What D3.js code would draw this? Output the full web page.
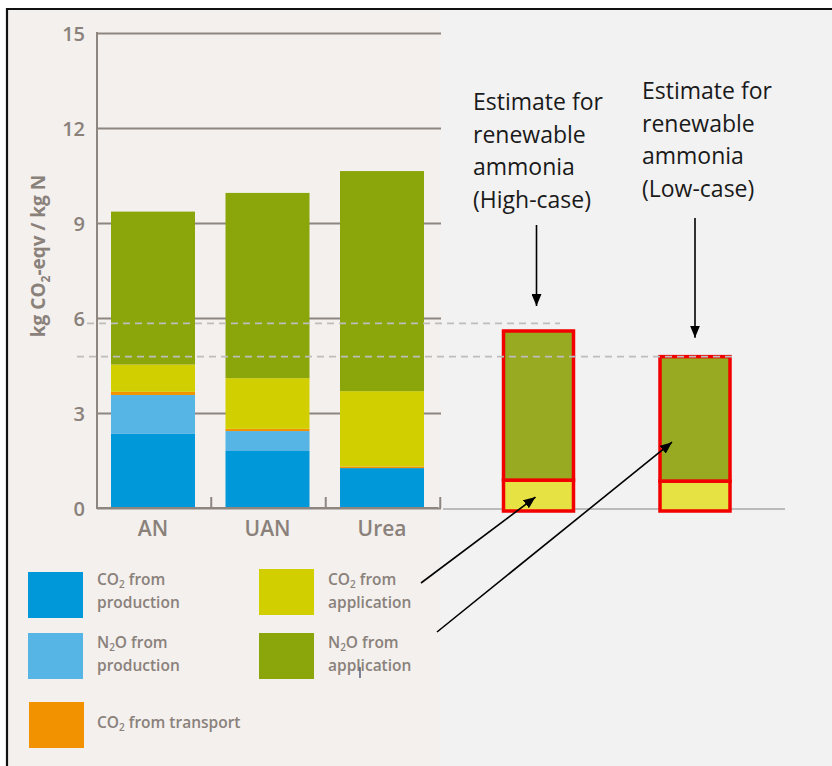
<!DOCTYPE html>
<html>
<head>
<meta charset="utf-8">
<script src="https://cdn.jsdelivr.net/npm/d3@7"></script>
<style>
  html, body { margin: 0; padding: 0; background: #ffffff; }
  svg { display: block; }
</style>
</head>
<body>
<svg id="chart" width="832" height="766"></svg>
<script>
// Fertiliser footprint per product (kg CO2-eqv / kg N), stacked by source
const categories = ["AN", "UAN", "Urea"];
const co2Production = [2.34, 1.80, 1.26];
const n2oProduction = [1.23, 0.63, 0.00];
const co2Transport = [0.10, 0.07, 0.05];
const co2Application = [0.86, 1.60, 2.38];
const n2oApplication = [4.83, 5.85, 6.95];

// Renewable ammonia estimates
const estimateCases = ["High-case", "Low-case"];
const estimateCo2Application = [0.88, 0.85];
const estimateN2oApplication = [4.71, 3.93];
const referenceLevels = [5.83, 4.78];

const yTicks = [0, 3, 6, 9, 12, 15];

const seriesKeys = ["co2Production", "n2oProduction", "co2Transport", "co2Application", "n2oApplication"];
const seriesColors = {
  co2Production: "#0098d8",
  n2oProduction: "#56b5e4",
  co2Transport: "#f39200",
  co2Application: "#d1cf00",
  n2oApplication: "#8ba60b"
};

const svg = d3.select("#chart");
const ink = "#8a817b";
const axisInk = "#8d8580";
const panelFont = "Open Sans";

// backgrounds and frame
svg.append("rect").attr("x", 8).attr("y", 10).attr("width", 824).attr("height", 756).attr("fill", "#f2f2f2");
svg.append("rect").attr("x", 8).attr("y", 10).attr("width", 433).attr("height", 756).attr("fill", "#f3f0ed");
svg.append("path").attr("d", "M7,766 V9 H832").attr("fill", "none").attr("stroke", "#111").attr("stroke-width", 2.2);

// scales
const y = d3.scaleLinear().domain([0, 15]).range([508, 33]);
const x = d3.scaleBand().domain(categories).range([97, 438]).paddingInner(0.2664).paddingOuter(0.1223);
const xe = d3.scalePoint().domain(estimateCases).range([538.5, 695]);
const estWidth = 70;

// y axis with gridlines
const yAxis = d3.axisLeft(y).tickValues(yTicks).tickSize(-344).tickPadding(12).tickFormat(d3.format("d"));
const gy = svg.append("g").attr("transform", "translate(97,0)").call(yAxis);
gy.select(".domain").remove();
gy.selectAll(".tick line").attr("stroke", axisInk).attr("stroke-width", 2);
gy.selectAll(".tick text").attr("fill", ink).attr("font-family", panelFont).attr("font-weight", 600)
  .attr("font-size", 20).attr("dy", "0.36em");
svg.append("line").attr("x1", 97).attr("x2", 97).attr("y1", y(15) - 1).attr("y2", y(0) + 1).attr("stroke", axisInk).attr("stroke-width", 2);

// right-side baseline for the estimates
svg.append("line").attr("x1", 443).attr("x2", 785).attr("y1", y(0) + 1).attr("y2", y(0) + 1)
  .attr("stroke", "#a8a8a8").attr("stroke-width", 1.5);

// stacked bars
const rows = categories.map((c, i) => ({
  category: c,
  co2Production: co2Production[i],
  n2oProduction: n2oProduction[i],
  co2Transport: co2Transport[i],
  co2Application: co2Application[i],
  n2oApplication: n2oApplication[i]
}));
const stacked = d3.stack().keys(seriesKeys)(rows);
svg.append("g").selectAll("g").data(stacked).join("g")
  .attr("fill", d => seriesColors[d.key])
  .selectAll("rect").data(d => d).join("rect")
  .attr("x", d => x(d.data.category))
  .attr("width", x.bandwidth())
  .attr("y", d => y(d[1]))
  .attr("height", d => Math.max(0, y(d[0]) - y(d[1])));

// x axis with category separators
const xAxis = d3.axisBottom(x).tickSize(0).tickPadding(9);
const gx = svg.append("g").attr("transform", `translate(0,${y(0)})`).call(xAxis);
gx.select(".domain").remove();
gx.selectAll(".tick text").attr("fill", ink).attr("font-family", panelFont).attr("font-weight", 600)
  .attr("font-size", 21).attr("dy", "0.9em");
svg.append("line").attr("x1", 96).attr("x2", 438).attr("y1", y(0)).attr("y2", y(0)).attr("stroke", axisInk).attr("stroke-width", 2);
const step = x.step();
svg.append("g").selectAll("line").data(categories).join("line")
  .attr("x1", d => x(d) + x.bandwidth() + (step - x.bandwidth()) / 2 + 1)
  .attr("x2", d => x(d) + x.bandwidth() + (step - x.bandwidth()) / 2 + 1)
  .attr("y1", y(0)).attr("y2", y(0) - 11)
  .attr("stroke", axisInk).attr("stroke-width", 2);

// y axis title
const yTitle = svg.append("text")
  .attr("transform", "translate(45,256) rotate(-90)")
  .attr("text-anchor", "middle")
  .attr("fill", ink).attr("font-family", panelFont).attr("font-weight", 700).attr("font-size", 19);
yTitle.append("tspan").text("kg CO");
yTitle.append("tspan").text("2").attr("font-size", 12).attr("dy", 5);
yTitle.append("tspan").text("-eqv / kg N").attr("dy", -5);

// estimate bars
const estRows = estimateCases.map((c, i) => ({
  estimate: c,
  co2Application: estimateCo2Application[i],
  n2oApplication: estimateN2oApplication[i]
}));
const estStacked = d3.stack().keys(["co2Application", "n2oApplication"])(estRows);
const estFill = { co2Application: "#e6e244", n2oApplication: "#97aa22" };
svg.append("g").selectAll("g").data(estStacked).join("g")
  .attr("fill", d => estFill[d.key])
  .selectAll("rect").data(d => d).join("rect")
  .attr("x", d => xe(d.data.estimate) - estWidth / 2)
  .attr("width", estWidth)
  .attr("y", d => y(d[1]))
  .attr("height", d => y(d[0]) - y(d[1]) + (d[0] === 0 ? 3 : 0))
  .attr("stroke", "#f20000").attr("stroke-width", 3.5);

// dashed reference levels
const refSpan = [[87, 560], [77, 732]];
svg.append("g").selectAll("line").data(referenceLevels).join("line")
  .attr("x1", (d, i) => refSpan[i][0]).attr("x2", (d, i) => refSpan[i][1])
  .attr("y1", d => y(d)).attr("y2", d => y(d))
  .attr("stroke", "#bdbdbd").attr("stroke-width", 1.6).attr("stroke-dasharray", "7,5");

// legend: one text block per entry, "_2" marks a subscript character
const legendItems = [
  { key: "co2Production", lines: ["CO_2 from", "production"], sx: 28, sy: 572, tx: 97, ty: 585 },
  { key: "n2oProduction", lines: ["N_2O from", "production"], sx: 28, sy: 633, tx: 97, ty: 648 },
  { key: "co2Transport", lines: ["CO_2 from transport"], sx: 29, sy: 702, tx: 97, ty: 728 },
  { key: "co2Application", lines: ["CO_2 from", "application"], sx: 259, sy: 569, tx: 328, ty: 585 },
  { key: "n2oApplication", lines: ["N_2O from", "application"], sx: 259, sy: 633, tx: 328, ty: 648 }
];
const lineGap = 23;
const subDrop = 3;
const lg = svg.append("g").selectAll("g").data(legendItems).join("g");
lg.append("rect").attr("x", d => d.sx).attr("y", d => d.sy).attr("width", 55).attr("height", 46)
  .attr("fill", d => seriesColors[d.key]);
lg.append("text")
  .attr("fill", ink).attr("font-family", panelFont).attr("font-weight", 600).attr("font-size", 15.5)
  .each(function (d) {
    const t = d3.select(this);
    d.lines.forEach((ln, li) => {
      const parts = ln.split(/_(.)/);
      let first = true;
      let shift = 0;
      parts.forEach((p, i) => {
        if (!p) return;
        const ts = t.append("tspan").text(p);
        if (first) {
          ts.attr("x", d.tx).attr("y", d.ty + li * lineGap);
          first = false;
          shift = 0;
        }
        if (i % 2 === 1) {
          ts.attr("font-size", 10).attr("dy", subDrop);
          shift = subDrop;
        } else if (shift) {
          ts.attr("dy", -shift);
          shift = 0;
        }
      });
    });
  });
// text cursor left in the legend label
svg.append("line").attr("x1", 360).attr("x2", 360).attr("y1", 667).attr("y2", 678)
  .attr("stroke", "#2a3b5c").attr("stroke-width", 1.2);

// annotations
const defs = svg.append("defs");
defs.append("marker").attr("id", "head").attr("viewBox", "0 0 12 10")
  .attr("refX", 12).attr("refY", 5).attr("markerWidth", 12).attr("markerHeight", 10)
  .attr("markerUnits", "userSpaceOnUse").attr("orient", "auto")
  .append("path").attr("d", "M0,0 L12,5 L0,10 Z").attr("fill", "#000");

const noteLines = [
  ["Estimate for", "renewable", "ammonia", "(High-case)"],
  ["Estimate for", "renewable", "ammonia", "(Low-case)"]
];
const noteX = [473, 642];
const noteY = [110, 99];
noteLines.forEach((lines, k) => {
  const t = svg.append("text").attr("font-family", "Open Sans").attr("font-size", 23).attr("fill", "#1a1a1a");
  lines.forEach((ln, i) => t.append("tspan").attr("x", noteX[k]).attr("y", noteY[k] + i * 32.7).text(ln));
});

const totals = estimateCases.map((c, i) => estimateCo2Application[i] + estimateN2oApplication[i]);
const arrows = [
  { x1: xe("High-case") - 2, y1: 225, x2: xe("High-case") - 2, y2: y(totals[0]) - 25 },
  { x1: xe("Low-case"), y1: 218, x2: xe("Low-case"), y2: y(totals[1]) - 19 },
  { x1: 421, y1: 583, x2: xe("High-case") - 3, y2: y(estimateCo2Application[0] / 2) + 3 },
  { x1: 437, y1: 632, x2: xe("Low-case") - estWidth / 2 + 12, y2: y(2.08) }
];
svg.append("g").selectAll("line").data(arrows).join("line")
  .attr("x1", d => d.x1).attr("y1", d => d.y1).attr("x2", d => d.x2).attr("y2", d => d.y2)
  .attr("stroke", "#000").attr("stroke-width", 1.6).attr("marker-end", "url(#head)");
</script>
</body>
</html>
